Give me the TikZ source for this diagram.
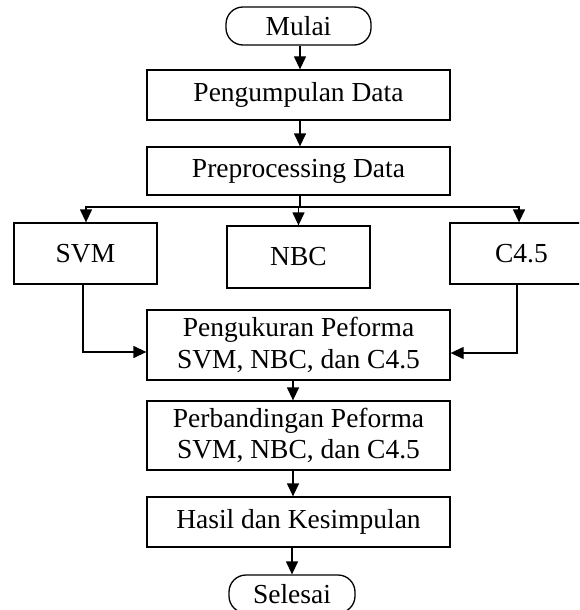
\documentclass[tikz,border=0pt]{standalone}
\usepackage{fontspec}
\setmainfont{Liberation Serif}
\usetikzlibrary{arrows.meta}
\begin{document}
\begin{tikzpicture}[x=1pt,y=-1pt,
  every node/.style={font=\fontsize{27.5}{31.7}\selectfont, inner sep=0pt, align=center},
  procbox/.style={draw, line width=1.3pt, rectangle, minimum width=303pt},
  algbox/.style={draw, line width=1.3pt, rectangle, minimum width=143pt, minimum height=61pt},
  termbox/.style={draw, line width=1.3pt, rectangle, rounded corners=17pt},
  conn/.style={line width=1.3pt, -{Triangle[length=13pt,width=12pt]}},
  plain/.style={line width=1.3pt}]
\useasboundingbox (0,0) rectangle (579,610);
\clip (0,0) rectangle (579,610);
\node[termbox, minimum width=145pt, minimum height=38pt] (mulai) at (298.5,26) {Mulai};
\node[procbox, minimum height=50pt] (kumpul) at (298.5,95) {Pengumpulan Data};
\node[procbox, minimum height=48pt] (prep) at (298.5,171) {Preprocessing Data};
\node[algbox] (svm) at (85.5,253.5) {SVM};
\node[algbox, minimum height=62pt] (nbc) at (298.5,257) {NBC};
\node[algbox] (c45) at (521.5,253.5) {C4.5};
\node[procbox, minimum height=70pt] (ukur) at (298.5,345) {Pengukuran Peforma\\SVM, NBC, dan C4.5};
\node[procbox, minimum height=69pt] (banding) at (298.5,435.5) {Perbandingan Peforma\\SVM, NBC, dan C4.5};
\node[procbox, minimum height=50pt] (hasil) at (298.5,522) {Hasil dan Kesimpulan};
\node[termbox, minimum width=126pt, minimum height=38pt] (selesai) at (292,594) {Selesai};
\coordinate (br) at (300,207);
\draw[conn] ([xshift=1.5pt]mulai.south) -- ([xshift=1.5pt]kumpul.north);
\draw[conn] ([xshift=1.5pt]kumpul.south) -- ([xshift=1.5pt]prep.north);
\draw[plain] ([xshift=1.5pt]prep.south) -- (br);
\draw[conn] (br) -| ([xshift=0.5pt]svm.north);
\draw[conn] (br) -| ([xshift=-2.5pt]c45.north);
\draw[conn] (br) -| (nbc.north);
\draw[conn] ([xshift=-2.5pt]svm.south) |- ([yshift=-7pt]ukur.west);
\draw[conn] ([xshift=-4.5pt]c45.south) |- ([yshift=-8pt]ukur.east);
\draw[conn] ([xshift=-5.5pt]ukur.south) -- ([xshift=-5.5pt]banding.north);
\draw[conn] ([xshift=-5.5pt]banding.south) -- ([xshift=-5.5pt]hasil.north);
\draw[conn] ([xshift=-6.5pt]hasil.south) -- ([xshift=0pt]selesai.north);
\end{tikzpicture}
\end{document}
